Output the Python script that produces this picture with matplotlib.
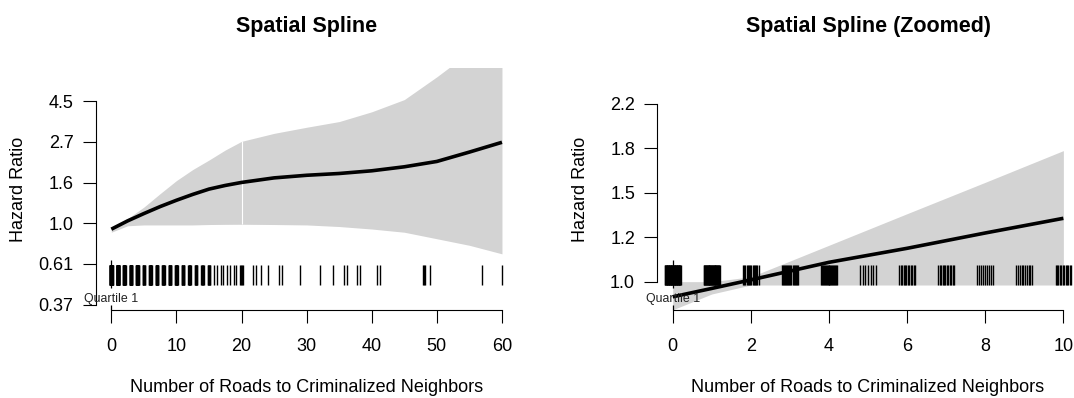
import numpy as np
import matplotlib
matplotlib.use("Agg")
import matplotlib.pyplot as plt
import matplotlib.transforms as mtransforms
from matplotlib.ticker import NullLocator

plt.rcParams['font.family'] = ['Liberation Sans', 'DejaVu Sans']

# --- spline fit over the full range (hazard ratios) ---
full_x = [0, 2.5, 5, 7.5, 10, 12.5, 15, 17.5, 20, 25, 30, 35, 40, 45, 50, 55, 60]
full_fit = [0.930, 1.030, 1.127, 1.228, 1.327, 1.426, 1.522, 1.592, 1.652,
            1.747, 1.804, 1.844, 1.906, 2.002, 2.138, 2.399, 2.705]
full_upper = [0.951, 1.060, 1.220, 1.440, 1.690, 1.935, 2.175, 2.460, 2.737,
              3.019, 3.254, 3.490, 3.935, 4.572, 6.050, 8.170, 11.02]
full_lower = [0.896, 0.970, 0.980, 0.980, 0.980, 0.980, 0.985, 0.987, 0.988,
              0.985, 0.980, 0.961, 0.932, 0.896, 0.827, 0.763, 0.687]

# --- zoomed prediction, 0 to 10 roads ---
zoom_x = [0, 1, 2, 4, 6, 8, 10]
zoom_fit = [0.934, 0.970, 1.008, 1.091, 1.162, 1.245, 1.330]
zoom_upper = [1.000, 1.000, 1.022, 1.178, 1.358, 1.564, 1.804]
zoom_lower = [0.881, 0.946, 0.985, 0.985, 0.985, 0.985, 0.985]

# observed values of the predictor (distinct values and how many)
obs_values = list(range(0, 21)) + [22, 23, 24, 26, 29, 32, 34, 36, 38, 41, 48, 49, 57, 60]
obs_counts = [40, 35, 14, 16, 18, 7, 12, 12, 9, 10, 12, 8, 8, 7, 6, 6, 2, 2, 2, 2, 4,
              2, 1, 1, 2, 1, 1, 1, 2, 2, 2, 3, 1, 1, 1]
quartile_1 = 0

left_ticks = np.exp([-1.0, -0.5, 0.0, 0.5, 1.0, 1.5])
left_labels = ["0.37", "0.61", "1.0", "1.6", "2.7", "4.5"]
right_ticks = np.exp([0.0, 0.2, 0.4, 0.6, 0.8])
right_labels = ["1.0", "1.2", "1.5", "1.8", "2.2"]

W, H = 1074, 398
BAND = '#d3d3d3'


def rug_positions(values, counts, spread=0.2):
    # spread tied values evenly across +/- spread so stacks read as blocks
    xs = []
    for v, n in zip(values, counts):
        if n == 1:
            xs.append(v)
        else:
            xs.extend(v + np.linspace(-spread, spread, n))
    return np.array(xs)


def draw_panel(ax, x, fit, lo, hi, xlim, ylim, yticks, ylabels, xticks, title, seam=None):
    ax.set_yscale('log')
    ax.set_xlim(*xlim)
    ax.set_ylim(*ylim)

    ax.fill_between(x, lo, hi, color=BAND, linewidth=0, zorder=1)
    if seam is not None:
        i = x.index(seam)
        ax.vlines(seam, lo[i], hi[i], color='white', lw=0.8, zorder=1.5)
    ax.plot(x, fit, color='black', lw=2.6, solid_capstyle='butt', zorder=3)

    trans = mtransforms.blended_transform_factory(ax.transData, ax.transAxes)
    xs = rug_positions(obs_values, obs_counts)
    xs = xs[xs <= xlim[1]]
    ax.vlines(xs, 0.104, 0.187, color='black', lw=1.0, transform=trans, zorder=2)

    # first quartile marker
    ax.vlines(quartile_1, 0.092, 0.208, color='black', lw=0.9, transform=trans, zorder=2)
    ax.vlines(quartile_1, 0.0, 0.022, color='black', lw=0.9, transform=trans, zorder=2)
    ax.text(quartile_1, 0.047, "Quartile 1", transform=trans, ha='center', va='center',
            fontsize=8.9, color='#222222', zorder=4)

    for s in ('top', 'right'):
        ax.spines[s].set_visible(False)
    ax.spines['left'].set_bounds(yticks[0], yticks[-1])
    ax.spines['bottom'].set_bounds(xticks[0], xticks[-1])
    for s in ('left', 'bottom'):
        ax.spines[s].set_linewidth(0.8)

    ax.set_yticks(yticks, ylabels)
    ax.yaxis.set_minor_locator(NullLocator())
    ax.set_xticks(xticks)
    ax.tick_params(axis='both', direction='out', length=9.4, width=0.8, labelsize=13)
    ax.tick_params(axis='y', pad=6.5)
    ax.tick_params(axis='x', pad=10.5)

    ax.text(0.5, 1.147, title, transform=ax.transAxes, ha='center', va='baseline',
            fontsize=15.5, fontweight='bold')
    ax.text(-77 / 421.9, 0.5, "Hazard Ratio", transform=ax.transAxes, rotation=90,
            ha='center', va='center', fontsize=13)
    ax.text(0.5, -0.317, "Number of Roads to Criminalized Neighbors", transform=ax.transAxes,
            ha='center', va='center', fontsize=13)


fig = plt.figure(figsize=(W / 100, H / 100), dpi=100)

bottom = 1 - 310.3 / H
height = (310.3 - 68) / H
width = 421.9 / W

ax1 = fig.add_axes([95.7 / W, bottom, width, height])
draw_panel(ax1, full_x, full_fit, full_lower, full_upper,
           xlim=(-2.4, 62.4), ylim=(np.exp(-1.069), np.exp(1.908)),
           yticks=left_ticks, ylabels=left_labels, xticks=list(range(0, 61, 10)),
           title="Spatial Spline", seam=20)

ax2 = fig.add_axes([657.1 / W, bottom, width, height])
draw_panel(ax2, zoom_x, zoom_fit, zoom_lower, zoom_upper,
           xlim=(-0.4, 10.4), ylim=(np.exp(-0.129), np.exp(0.962)),
           yticks=right_ticks, ylabels=right_labels, xticks=list(range(0, 11, 2)),
           title="Spatial Spline (Zoomed)")

fig.savefig("out.png", dpi=100)
